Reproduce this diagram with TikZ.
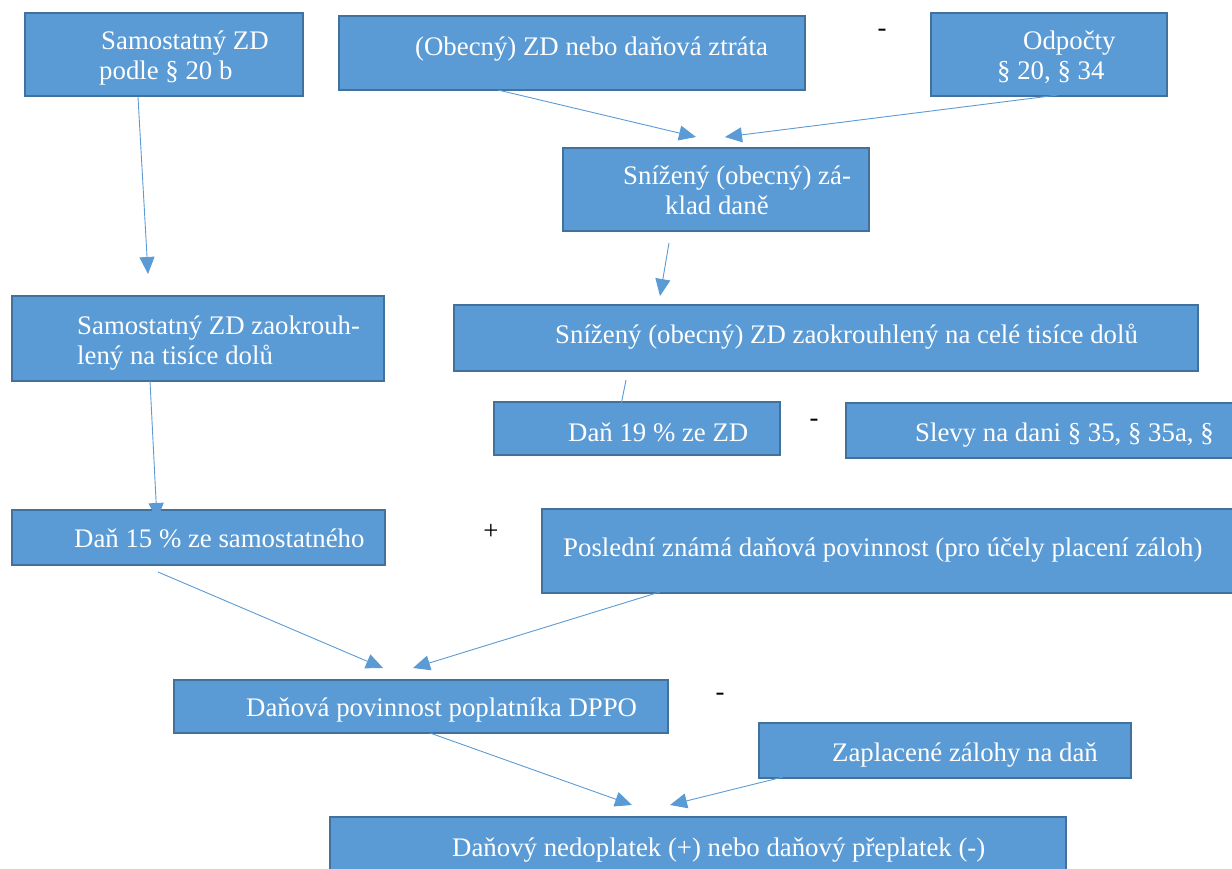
\documentclass[tikz,border=0pt]{standalone}
\usepackage{fontspec}
\setmainfont{Liberation Serif}
\usepackage{xcolor}
\usepackage{tikz}
\usetikzlibrary{arrows.meta,positioning,calc}
\definecolor{boxfill}{RGB}{91,155,213}
\definecolor{boxline}{RGB}{65,113,156}
\tikzset{box/.style={draw=boxline,fill=boxfill,line width=1.6pt,rectangle,inner sep=0pt}}
\tikzset{txt/.style={text=white,inner sep=0pt,anchor=base west,align=left,font=\fontsize{26.8}{30}\selectfont}}
\tikzset{sign/.style={text=black,inner sep=0pt,font=\fontsize{26.8}{30}\selectfont}}
\tikzset{arr/.style={draw=boxfill,line width=0.9pt,-{Triangle[length=17pt,width=15pt]}}}

\begin{document}
\begin{tikzpicture}[x=1pt, y=-1pt]
    \useasboundingbox (0,0) rectangle (1232,869);
    \clip (0,0) rectangle (1232,869);
    % boxes
    \node[box,minimum width=278,minimum height=83] (sam) at (164,54.5) {};
    \node[box,minimum width=466,minimum height=74] (obec) at (572,53) {};
    \node[box,minimum width=236,minimum height=83] (odp) at (1049,54.5) {};
    \node[box,minimum width=306,minimum height=83] (sniz) at (716,189.5) {};
    \node[box,minimum width=372,minimum height=85] (samz) at (198,338.5) {};
    \node[box,minimum width=744,minimum height=66] (snizz) at (826,338) {};
    \node[box,minimum width=286,minimum height=53] (dan19) at (637,428.5) {};
    \node[box,minimum width=394,minimum height=55] (slevy) at (1043,430.5) {};
    \node[box,minimum width=373,minimum height=55] (dan15) at (198.5,537.5) {};
    \node[box,minimum width=698,minimum height=84] (posl) at (891,551) {};
    \node[box,minimum width=494,minimum height=53] (povin) at (421,706.5) {};
    \node[box,minimum width=372,minimum height=55] (zal) at (945,750.5) {};
    \node[box,minimum width=736,minimum height=63] (nedop) at (698,848.5) {};

    % texts
    \node[txt] (tsam) at (99,80) {\hspace*{2pt}Samostatný ZD\\podle § 20 b};
    \node[txt] (tobec) at (415,56) {(Obecný) ZD nebo daňová ztráta};
    \node[txt] (todp) at (997,80) {\hspace*{26pt}Odpočty\\§ 20, § 34};
    \node[txt] (tsniz) at (623,215) {Snížený (obecný) zá-\\\hspace*{42pt}klad daně};
    \node[txt] (tsamz) at (77,364) {Samostatný ZD zaokrouh-\\lený na tisíce dolů};
    \node[txt] (tsnizz) at (555,343) {Snížený (obecný) ZD zaokrouhlený na celé tisíce dolů};
    \node[txt] (tdan19) at (568,441) {Daň 19 \% ze ZD};
    \node[txt] (tslevy) at (915,441) {Slevy na dani § 35, § 35a, §};
    \node[txt] (tdan15) at (74,547) {Daň 15 \% ze samostatného};
    \node[txt] (tposl) at (563,556) {Poslední známá daňová povinnost (pro účely placení záloh)};
    \node[txt] (tpovin) at (246,716) {Daňová povinnost poplatníka DPPO};
    \node[txt] (tzal) at (832,761) {Zaplacené zálohy na daň};
    \node[txt] (tnedop) at (452,856) {Daňový nedoplatek (+) nebo daňový přeplatek (-)};

    % signs
    \node[sign] (m1) at (882,33) {-};
    \node[sign] (m2) at (814,423) {-};
    \node[sign] (p1) at (491,532) {+};
    \node[sign] (m3) at (720,697) {-};

    % connector ends
    \coordinate (a1) at (138,97);   \coordinate (a2) at (148,274);
    \coordinate (b1) at (498,90);   \coordinate (b2) at (696,137);
    \coordinate (c1) at (1058,95);  \coordinate (c2) at (725,137);
    \coordinate (d1) at (669,243);  \coordinate (d2) at (660,296);
    \coordinate (e1) at (626,380);  \coordinate (e2) at (621,405);
    \coordinate (f1) at (150,381);  \coordinate (f2) at (157,520);
    \coordinate (g1) at (158,572);  \coordinate (g2) at (383,668);
    \coordinate (h1) at (663,591);  \coordinate (h2) at (413,668);
    \coordinate (i1) at (430,733);  \coordinate (i2) at (632,805);
    \coordinate (j1) at (783,777);  \coordinate (j2) at (670,805);

    \path (a1) edge[arr] (a2);
    \path (b1) edge[arr] (b2);
    \path (c1) edge[arr] (c2);
    \path (d1) edge[arr] (d2);
    \path (e1) edge[draw=boxfill,line width=0.9pt] (e2);
    \path (f1) edge[arr] (f2);
    \path (g1) edge[arr] (g2);
    \path (h1) edge[arr] (h2);
    \path (i1) edge[arr] (i2);
    \path (j1) edge[arr] (j2);
\end{tikzpicture}
\end{document}
